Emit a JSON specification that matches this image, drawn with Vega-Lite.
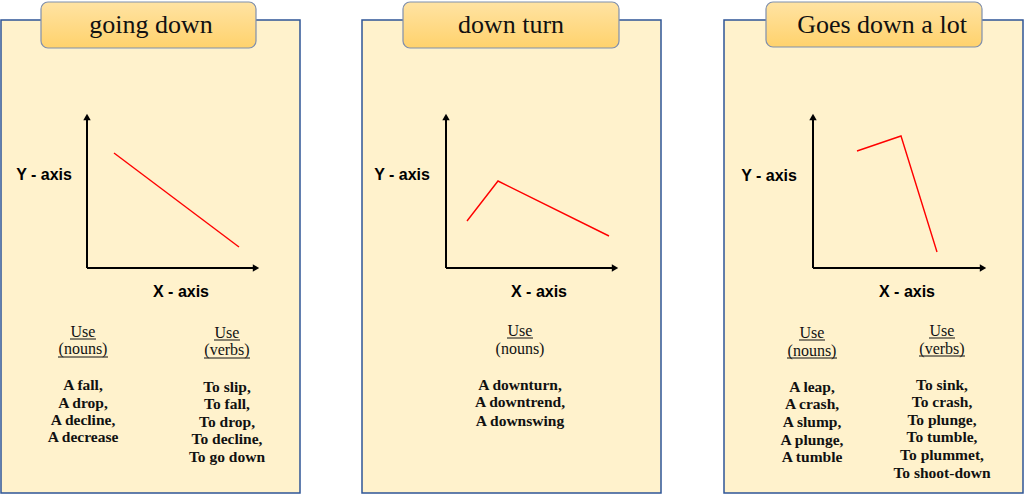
{
  "$schema": "https://vega.github.io/schema/vega-lite/v6.json",
  "description": "Three cards describing downward trends, each with a small sketch and vocabulary.",
  "width": 1024,
  "height": 494,
  "autosize": {"type": "fit", "contains": "padding"},
  "padding": 0,
  "background": "white",
  "config": {"view": {"stroke": null}},
  "datasets": {
    "cards": [
      {"card": "going down", "x": 1, "x2": 300, "y": 20, "y2": 493},
      {"card": "down turn", "x": 362, "x2": 661, "y": 20, "y2": 493},
      {"card": "Goes down a lot", "x": 724, "x2": 1023, "y": 20, "y2": 493}
    ],
    "tabs": [
      {"card": "going down", "x": 41, "x2": 256, "y": 2, "y2": 48},
      {"card": "down turn", "x": 403, "x2": 619, "y": 2, "y2": 48},
      {"card": "Goes down a lot", "x": 766, "x2": 982, "y": 2, "y2": 47}
    ],
    "titles": [
      {"label": "going down", "x": 151, "y": 33},
      {"label": "down turn", "x": 511, "y": 33},
      {"label": "Goes down a lot", "x": 882, "y": 33}
    ],
    "axes": [
      {"card": "going down", "x": 87, "x2": 87, "y": 118, "y2": 268},
      {"card": "going down", "x": 87, "x2": 255, "y": 268, "y2": 268},
      {"card": "down turn", "x": 446, "x2": 446, "y": 118, "y2": 268},
      {"card": "down turn", "x": 446, "x2": 614, "y": 268, "y2": 268},
      {"card": "Goes down a lot", "x": 813, "x2": 813, "y": 118, "y2": 268},
      {"card": "Goes down a lot", "x": 813, "x2": 982, "y": 268, "y2": 268}
    ],
    "arrows": [
      {"dir": "up", "x": 87, "y": 117},
      {"dir": "right", "x": 256, "y": 268},
      {"dir": "up", "x": 446, "y": 117},
      {"dir": "right", "x": 615, "y": 268},
      {"dir": "up", "x": 813, "y": 117},
      {"dir": "right", "x": 983, "y": 268}
    ],
    "trend": [
      {"card": "going down", "step": 1, "x": 114, "y": 153},
      {"card": "going down", "step": 2, "x": 239, "y": 247},
      {"card": "down turn", "step": 1, "x": 467, "y": 221},
      {"card": "down turn", "step": 2, "x": 498, "y": 181},
      {"card": "down turn", "step": 3, "x": 609, "y": 236},
      {"card": "Goes down a lot", "step": 1, "x": 857, "y": 151},
      {"card": "Goes down a lot", "step": 2, "x": 901, "y": 136},
      {"card": "Goes down a lot", "step": 3, "x": 937, "y": 252}
    ],
    "axisLabels": [
      {"label": "Y - axis", "x": 44, "y": 175},
      {"label": "X - axis", "x": 181, "y": 292},
      {"label": "Y - axis", "x": 402, "y": 175},
      {"label": "X - axis", "x": 539, "y": 292},
      {"label": "Y - axis", "x": 769, "y": 176},
      {"label": "X - axis", "x": 907, "y": 292}
    ],
    "headers": [
      {"label": "Use", "x": 83, "y": 332},
      {"label": "(nouns)", "x": 83, "y": 349},
      {"label": "Use", "x": 227, "y": 333},
      {"label": "(verbs)", "x": 227, "y": 350},
      {"label": "Use", "x": 520, "y": 331},
      {"label": "(nouns)", "x": 520, "y": 349},
      {"label": "Use", "x": 812, "y": 333},
      {"label": "(nouns)", "x": 812, "y": 351},
      {"label": "Use", "x": 942, "y": 331},
      {"label": "(verbs)", "x": 942, "y": 349}
    ],
    "underlines": [
      {"x": 70, "x2": 96, "y": 339},
      {"x": 58, "x2": 108, "y": 357},
      {"x": 214, "x2": 240, "y": 340},
      {"x": 204, "x2": 250, "y": 358},
      {"x": 507, "x2": 533, "y": 338},
      {"x": 799, "x2": 825, "y": 340},
      {"x": 787, "x2": 837, "y": 358},
      {"x": 929, "x2": 955, "y": 338},
      {"x": 919, "x2": 965, "y": 356}
    ],
    "words": [
      {"label": "A fall,", "x": 83, "y": 385},
      {"label": "A drop,", "x": 83, "y": 403},
      {"label": "A decline,", "x": 83, "y": 420},
      {"label": "A decrease", "x": 83, "y": 437},
      {"label": "To slip,", "x": 227, "y": 387},
      {"label": "To fall,", "x": 227, "y": 404},
      {"label": "To drop,", "x": 227, "y": 422},
      {"label": "To decline,", "x": 227, "y": 439},
      {"label": "To go down", "x": 227, "y": 457},
      {"label": "A downturn,", "x": 520, "y": 385},
      {"label": "A downtrend,", "x": 520, "y": 402},
      {"label": "A downswing", "x": 520, "y": 421},
      {"label": "A leap,", "x": 812, "y": 387},
      {"label": "A crash,", "x": 812, "y": 404},
      {"label": "A slump,", "x": 812, "y": 422},
      {"label": "A plunge,", "x": 812, "y": 440},
      {"label": "A tumble", "x": 812, "y": 457},
      {"label": "To sink,", "x": 942, "y": 385},
      {"label": "To crash,", "x": 942, "y": 402},
      {"label": "To plunge,", "x": 942, "y": 420},
      {"label": "To tumble,", "x": 942, "y": 437},
      {"label": "To plummet,", "x": 942, "y": 455},
      {"label": "To shoot-down", "x": 942, "y": 473}
    ]
  },
  "encoding": {
    "x": {
      "field": "x",
      "type": "quantitative",
      "scale": {"domain": [0, 1024], "nice": false, "zero": false},
      "axis": null
    },
    "y": {
      "field": "y",
      "type": "quantitative",
      "scale": {"domain": [0, 494], "nice": false, "zero": false, "reverse": true},
      "axis": null
    }
  },
  "layer": [
    {
      "data": {"name": "cards"},
      "mark": {"type": "rect", "fill": "#FFF2CC", "stroke": "#2F5597", "strokeWidth": 1.5},
      "encoding": {"x2": {"field": "x2"}, "y2": {"field": "y2"}}
    },
    {
      "data": {"name": "tabs"},
      "mark": {
        "type": "rect",
        "cornerRadius": 7,
        "stroke": "#7F8FAE",
        "strokeWidth": 1.2,
        "fill": {
          "gradient": "linear",
          "x1": 0, "y1": 0, "x2": 0, "y2": 1,
          "stops": [
            {"offset": 0, "color": "#FFE3A3"},
            {"offset": 1, "color": "#FFD26C"}
          ]
        }
      },
      "encoding": {"x2": {"field": "x2"}, "y2": {"field": "y2"}}
    },
    {
      "data": {"name": "titles"},
      "mark": {
        "type": "text",
        "font": "Liberation Serif",
        "fontSize": 26,
        "align": "center",
        "baseline": "alphabetic",
        "color": "#111111"
      },
      "encoding": {"text": {"field": "label"}}
    },
    {
      "data": {"name": "axes"},
      "mark": {"type": "rule", "color": "black", "strokeWidth": 2},
      "encoding": {"x2": {"field": "x2"}, "y2": {"field": "y2"}}
    },
    {
      "data": {"name": "arrows"},
      "mark": {"type": "point", "filled": true, "color": "black", "opacity": 1, "size": 55},
      "encoding": {
        "shape": {
          "field": "dir",
          "type": "nominal",
          "scale": {"domain": ["up", "right"], "range": ["triangle-up", "triangle-right"]},
          "legend": null
        }
      }
    },
    {
      "data": {"name": "trend"},
      "mark": {"type": "line", "color": "#FF0000", "strokeWidth": 1.4},
      "encoding": {
        "detail": {"field": "card", "type": "nominal"},
        "order": {"field": "step", "type": "quantitative"}
      }
    },
    {
      "data": {"name": "axisLabels"},
      "mark": {
        "type": "text",
        "font": "Liberation Sans",
        "fontWeight": "bold",
        "fontSize": 16,
        "align": "center",
        "baseline": "middle",
        "color": "black"
      },
      "encoding": {"text": {"field": "label"}}
    },
    {
      "data": {"name": "headers"},
      "mark": {
        "type": "text",
        "font": "Liberation Serif",
        "fontSize": 16,
        "align": "center",
        "baseline": "middle",
        "color": "#111111"
      },
      "encoding": {"text": {"field": "label"}}
    },
    {
      "data": {"name": "underlines"},
      "mark": {"type": "rule", "color": "#111111", "strokeWidth": 1},
      "encoding": {"x2": {"field": "x2"}}
    },
    {
      "data": {"name": "words"},
      "mark": {
        "type": "text",
        "font": "Liberation Serif",
        "fontWeight": "bold",
        "fontSize": 15.5,
        "align": "center",
        "baseline": "middle",
        "color": "#111111"
      },
      "encoding": {"text": {"field": "label"}}
    }
  ]
}
